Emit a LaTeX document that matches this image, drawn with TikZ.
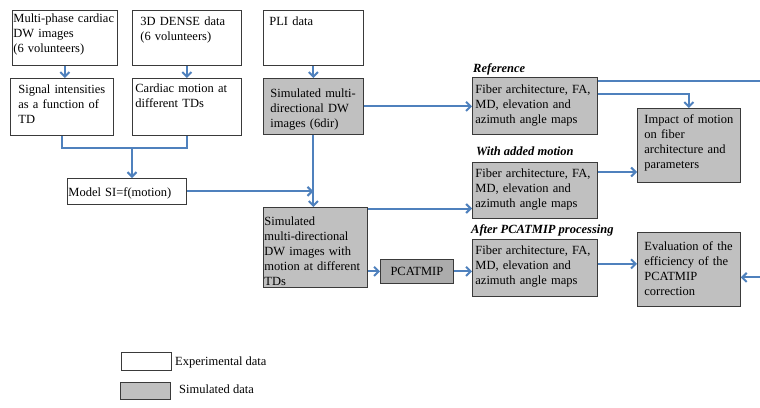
\documentclass[tikz,border=0pt]{standalone}
\usepackage{fontspec}
\setmainfont{Liberation Serif}
\usetikzlibrary{arrows.meta, calc}

\definecolor{flowblue}{HTML}{4F81BD}
\definecolor{boxline}{HTML}{3A3A3A}
\definecolor{simgray}{HTML}{C0C0C0}
\definecolor{procgray}{HTML}{ACACAC}

\tikzset{
  databox/.style={draw=boxline, line width=0.8pt, anchor=north west, align=left, inner ysep=0pt},
  expbox/.style={databox, fill=white},
  simbox/.style={databox, fill=simgray},
  mapbox/.style={simbox, inner xsep=3pt, text width=119pt},
  flow/.style={draw=flowblue, line width=2pt, -{Straight Barb[length=4.5pt,width=9pt]}},
  link/.style={draw=flowblue, line width=2pt},
  caption/.style={anchor=base west, inner sep=0pt, font=\fontsize{12.5}{15}\selectfont\bfseries\itshape}
}

\begin{document}
\begin{tikzpicture}[x=1pt, y=-1pt, font=\fontsize{12.5}{15}\selectfont]
\useasboundingbox (0,0) rectangle (760,407);
\fill[white] (0,0) rectangle (760,407);
% Draw the experimental inputs
\node[expbox, inner xsep=1pt, text width=103pt, text height=12pt, text depth=43pt] (dw-images) at (12,10) {Multi-phase cardiac\\DW images\\(6 volunteers)};
\node[expbox, inner xsep=8pt, text width=93pt, text height=15pt, text depth=40pt] (dense-data) at (132,10) {3D DENSE data\\(6 volunteers)};
\node[expbox, inner xsep=6pt, text width=88pt, text height=15pt, text depth=40pt] (pli-data) at (263,10) {PLI data};
% Draw the second row
\node[expbox, inner xsep=8pt, text width=87pt, text height=15pt, text depth=42pt] (signal-td) at (10,78) {Signal intensities\\as a function of\\TD};
\node[expbox, inner xsep=3pt, text width=103pt, text height=14pt, text depth=43pt] (motion-td) at (132,78) {Cardiac motion at\\different TDs};
\node[simbox, inner xsep=7pt, text width=86pt, text height=19pt, text depth=37pt] (sim-dw) at (263,78) {Simulated multi-\\directional DW\\images (6dir)};
% Draw the motion model and the simulated images with motion
\node[expbox, inner xsep=1pt, text width=117pt, text height=18pt, text depth=8pt] (model-si) at (67,178) {Model SI=f(motion)};
\node[simbox, inner xsep=1pt, text width=102pt, text height=18pt, text depth=62pt] (sim-motion) at (263,207) {Simulated\\multi-directional\\DW images with\\motion at different\\TDs};
\node[draw=boxline, line width=0.8pt, fill=procgray, anchor=north west, minimum width=73pt, minimum height=24pt, inner sep=0pt] (pcatmip) at (380,259) {PCATMIP};
% Draw the three sets of maps
\node[caption] at (473,72) {Reference};
\node[mapbox, text height=16pt, text depth=41pt] (maps-ref) at (472,77) {Fiber architecture, FA,\\MD, elevation and\\azimuth angle maps};
\node[caption] at (476,155) {With added motion};
\node[mapbox, text height=15pt, text depth=41pt] (maps-motion) at (472,162) {Fiber architecture, FA,\\MD, elevation and\\azimuth angle maps};
\node[caption] at (471,233) {After PCATMIP processing};
\node[mapbox, text height=15pt, text depth=42pt] (maps-pcatmip) at (472,239) {Fiber architecture, FA,\\MD, elevation and\\azimuth angle maps};
% Draw the two outcomes
\node[simbox, inner xsep=7pt, text width=89pt, text height=15pt, text depth=59pt] (impact) at (637,108) {Impact of motion\\on fiber\\architecture and\\parameters};
\node[simbox, inner xsep=7pt, text width=89pt, text height=18pt, text depth=56pt] (evaluation) at (637,232) {Evaluation of the\\efficiency of the\\PCATMIP\\correction};
% Draw the legend
\node[expbox, minimum width=50pt, minimum height=18pt, inner sep=0pt] (legend-exp) at (121,352) {};
\node[anchor=base west, inner sep=0pt] at (175,365) {Experimental data};
\node[simbox, minimum width=50pt, minimum height=17pt, inner sep=0pt] (legend-sim) at (120,382) {};
\node[anchor=base west, inner sep=0pt] at (179,393) {Simulated data};
% Draw arrows between the first two rows
\draw[flow] (dw-images.south) -- (dw-images.south |- signal-td.north);
\draw[flow] (dense-data.south) -- (dense-data.south |- motion-td.north);
\draw[flow] (pli-data.south) -- (pli-data.south |- sim-dw.north);
% Join the two measurements into the model
\coordinate (join) at (132,148);
\draw[link] (signal-td.south) |- (join) -| (motion-td.south);
\draw[flow] (join) -- (join |- model-si.north);
\draw[flow] (sim-dw.south) -- (sim-dw.south |- sim-motion.north);
\draw[flow] (model-si.east) -- (model-si.east -| sim-dw.south);
% Arrows to the maps
\draw[flow] (sim-dw.east) -- (sim-dw.east -| maps-ref.west);
\coordinate (sim-top) at ([yshift=-1.5pt]sim-motion.north east);
\draw[flow] (sim-top) -- (sim-top -| maps-motion.west);
\draw[flow] (pcatmip.west -| sim-motion.east) -- (pcatmip.west);
\draw[flow] (pcatmip.east) -- (pcatmip.east -| maps-pcatmip.west);
% Arrows to the outcomes
\coordinate (ref-out) at ([yshift=-17pt]maps-ref.north east);
\draw[flow] (ref-out) -| (impact.north);
\coordinate (motion-out) at ([yshift=-10pt]maps-motion.north east);
\draw[flow] (motion-out) -- (motion-out -| impact.west);
\coordinate (pcatmip-out) at ([yshift=4pt]maps-pcatmip.east);
\draw[flow] (pcatmip-out) -- (pcatmip-out -| evaluation.west);
% Reference maps run round the right edge into the evaluation
\coordinate (ref-top) at ([yshift=-4pt]maps-ref.north east);
\coordinate (eval-in) at ([yshift=-8pt]evaluation.east);
\coordinate (loop) at (772,0);
\draw[flow] (ref-top) -| (loop |- eval-in) -- (eval-in);
\end{tikzpicture}
\end{document}
